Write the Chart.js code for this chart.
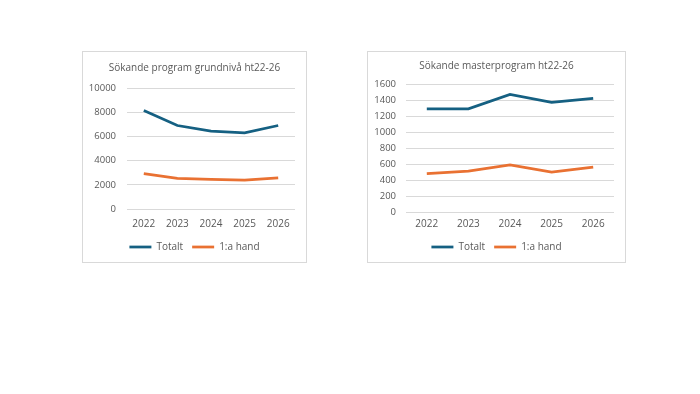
<!DOCTYPE html>
<html>
<head>
<meta charset="utf-8">
<script src="https://cdn.jsdelivr.net/npm/chart.js@4"></script>
<style>
  html, body { margin: 0; padding: 0; background: #fff; }
  body { width: 700px; height: 394px; position: relative; overflow: hidden; }
  .box { position: absolute; border: 1px solid #d9d9d9; box-sizing: border-box; }
  .box canvas { position: absolute; left: -1px; top: -1px; }
</style>
</head>
<body>
<div class="box" style="left:82px; top:51px; width:225px; height:212px;">
  <canvas id="grund" width="225" height="212"></canvas>
</div>
<div class="box" style="left:367px; top:51px; width:259px; height:212px;">
  <canvas id="master" width="259" height="212"></canvas>
</div>
<script>
const years = ['2022', '2023', '2024', '2025', '2026'];
const seriesNames = ['Totalt', '1:a hand'];

// grundnivå
const grundTotalt = [8150, 6900, 6430, 6290, 6900];
const grundForsta = [2920, 2530, 2450, 2390, 2580];

// masterprogram
const masterTotalt = [1290, 1290, 1470, 1370, 1420];
const masterForsta = [480, 510, 590, 500, 560];

const BLUE = '#156082';
const ORANGE = '#E97132';
const TEXT = '#595959';
const GRID = '#d9d9d9';
const FONT = "'Open Sans', sans-serif";

function makeChart(id, title, totalt, forsta, yMax, yStep, opts) {
  const ctx = document.getElementById(id).getContext('2d');
  return new Chart(ctx, {
    type: 'line',
    data: {
      labels: years,
      datasets: [
        { label: seriesNames[0], data: totalt, borderColor: BLUE, backgroundColor: BLUE,
          borderWidth: 2.75, pointRadius: 0, tension: 0 },
        { label: seriesNames[1], data: forsta, borderColor: ORANGE, backgroundColor: ORANGE,
          borderWidth: 2.75, pointRadius: 0, tension: 0 }
      ]
    },
    options: {
      responsive: false,
      animation: false,
      layout: { padding: { left: 0, right: 0, top: 0, bottom: 1 } },
      plugins: {
        title: {
          display: true,
          text: title,
          color: TEXT,
          font: { family: FONT, size: 10, weight: 'normal' },
          padding: { top: opts.titleTop, bottom: opts.titleBottom }
        },
        legend: {
          position: 'bottom',
          labels: {
            color: TEXT,
            font: { family: FONT, size: 10 },
            usePointStyle: true,
            pointStyle: 'line',
            pointStyleWidth: 22,
            padding: 9,
            boxHeight: 10
          }
        },
        tooltip: { enabled: false }
      },
      scales: {
        x: {
          offset: true,
          grid: { display: false, drawTicks: false },
          border: { display: false },
          ticks: { color: TEXT, font: { family: FONT, size: 10 }, padding: opts.xPad },
          afterFit: s => { s.height = opts.xHeight; }
        },
        y: {
          min: 0,
          max: yMax,
          ticks: {
            stepSize: yStep, color: TEXT, font: { family: FONT, size: 9.5 }, padding: opts.yPad,
            callback: v => String(v)
          },
          grid: { color: GRID, drawTicks: false, lineWidth: 1 },
          border: { display: false },
          afterFit: s => { s.width = opts.yWidth; }
        },
        // empty right-hand spacer so the plot ends before the frame
        spacer: {
          type: 'linear',
          position: 'right',
          grid: { display: false, drawTicks: false },
          border: { display: false },
          ticks: { display: false },
          afterFit: s => { s.width = opts.padRight; }
        }
      }
    }
  });
}

makeChart('grund', 'Sökande program grundnivå ht22-26', grundTotalt, grundForsta, 10000, 2000,
  { padRight: 12, titleTop: 11, titleBottom: 14, xPad: 9, xHeight: 24, yPad: 11, yWidth: 45 });

makeChart('master', 'Sökande masterprogram ht22-26', masterTotalt, masterForsta, 1600, 200,
  { padRight: 12, titleTop: 9, titleBottom: 12, xPad: 6, xHeight: 21, yPad: 10, yWidth: 39 });
</script>
</body>
</html>
